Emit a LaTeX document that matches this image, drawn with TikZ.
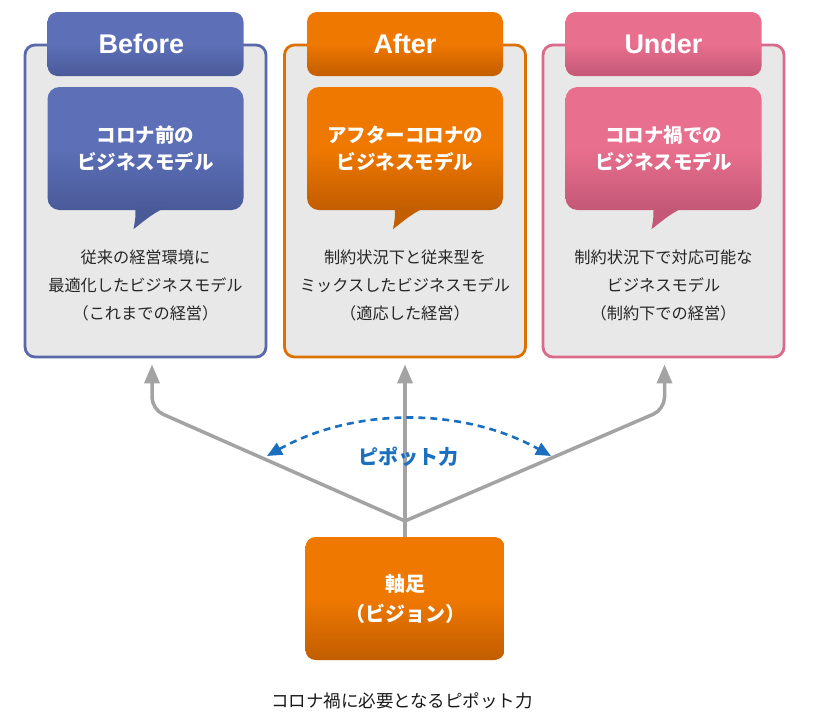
\documentclass[tikz,border=0pt]{standalone}
\usepackage{fontspec}
\setmainfont{Noto Sans CJK JP}
\newfontfamily\latinfont{Liberation Sans}
\usetikzlibrary{arrows.meta,calc}
\definecolor{panelgray}{HTML}{E8E8E8}
\definecolor{bluetop}{HTML}{5D70B7}
\definecolor{bluebot}{HTML}{4A5A99}
\definecolor{blueborder}{HTML}{5868A8}
\definecolor{orangetop}{HTML}{EF7800}
\definecolor{orangebot}{HTML}{C25D00}
\definecolor{orangeborder}{HTML}{DC7000}
\definecolor{pinktop}{HTML}{E86F8D}
\definecolor{pinkbot}{HTML}{C45877}
\definecolor{pinkborder}{HTML}{D96A8A}
\definecolor{arrowgray}{HTML}{A3A3A3}
\definecolor{pivotblue}{HTML}{1A6FBF}
\definecolor{bodytext}{HTML}{262626}
\begin{document}
\begin{tikzpicture}[x=1pt,y=-1pt,
  panel/.style={draw=#1border, fill=panelgray, line width=2.8pt, rounded corners=10pt,
    minimum width=241pt, minimum height=312pt, inner sep=0pt},
  tabbox/.style={rounded corners=10pt, top color=#1top, bottom color=#1bot, middle color=#1top,
    minimum width=196pt, minimum height=64pt, inner sep=0pt, text=white,
    font=\latinfont\bfseries\fontsize{27}{30}\selectfont},
  bubble/.style={rounded corners=12pt, top color=#1top, bottom color=#1bot, middle color=#1top,
    minimum width=196pt, minimum height=123pt, inner sep=0pt, text=white, align=center,
    font=\bfseries\fontsize{19.5}{27}\selectfont},
  bodybox/.style={text=bodytext, align=center, font=\fontsize{16.2}{28}\selectfont, inner sep=0pt},
  grayarrow/.style={draw=arrowgray, line width=3.5pt, -{Triangle[length=19pt,width=15pt]}},
  pivotarrow/.style={draw=pivotblue, line width=2.6pt, dash pattern=on 7pt off 5pt,
    {Triangle[length=15pt,width=13pt]}-{Triangle[length=15pt,width=13pt]}}
]
\useasboundingbox[fill=white] (0,0) rectangle (815,713);

% ---------- Before ----------
\node[panel=blue] (before) at (145.5,201) {};
\node[tabbox=blue] (tab1) at (145.5,44) {\hspace*{-8pt}Before};
\node[bubble=blue] (bub1) at (145.5,148.5) {コロナ前の\\ビジネスモデル};
\fill[bluebot] ($(bub1.south)+(-10,-3)$) .. controls ($(bub1.south)+(-10,8)$) .. ($(bub1.south)+(-12,19)$)
  .. controls ($(bub1.south)+(2,8)$) and ($(bub1.south)+(10,1)$) .. ($(bub1.south)+(22,-3)$) -- cycle;
\node[bodybox] (body1) at (145.5,285) {従来の経営環境に\\最適化したビジネスモデル\\（これまでの経営）};

% ---------- After ----------
\node[panel=orange] (after) at (405,201) {};
\node[tabbox=orange] (tab2) at (405,44) {After};
\node[bubble=orange] (bub2) at (405,148.5) {アフターコロナの\\ビジネスモデル};
\fill[orangebot] ($(bub2.south)+(-10,-3)$) .. controls ($(bub2.south)+(-10,8)$) .. ($(bub2.south)+(-12,19)$)
  .. controls ($(bub2.south)+(2,8)$) and ($(bub2.south)+(10,1)$) .. ($(bub2.south)+(22,-3)$) -- cycle;
\node[bodybox] (body2) at (405,285) {制約状況下と従来型を\\ミックスしたビジネスモデル\\（適応した経営）};

% ---------- Under ----------
\node[panel=pink] (under) at (663.5,201) {};
\node[tabbox=pink] (tab3) at (663.5,44) {Under};
\node[bubble=pink] (bub3) at (663.5,148.5) {コロナ禍での\\ビジネスモデル};
\fill[pinkbot] ($(bub3.south)+(-10,-3)$) .. controls ($(bub3.south)+(-10,8)$) .. ($(bub3.south)+(-12,19)$)
  .. controls ($(bub3.south)+(2,8)$) and ($(bub3.south)+(10,1)$) .. ($(bub3.south)+(22,-3)$) -- cycle;
\node[bodybox] (body3) at (663.5,285) {制約状況下で対応可能な\\ビジネスモデル\\（制約下での経営）};

% ---------- Axis box ----------
\node[rounded corners=10pt, top color=orangetop, bottom color=orangebot, middle color=orangetop,
  minimum width=199pt, minimum height=123pt, inner sep=0pt, text=white, align=center,
  font=\bfseries\fontsize{20}{30}\selectfont] (axis) at (405,598.5) {軸足\\（ビジョン）};

% ---------- Arrows ----------
\coordinate (J) at (405,521);
\draw[grayarrow] (axis.north) -- ([yshift=-6pt]after.south);
\draw[grayarrow, rounded corners=12pt] (J) -- ($(before.south)+(6.5,51)$) -- ([xshift=6.5pt,yshift=-6pt]before.south);
\draw[grayarrow, rounded corners=12pt] (J) -- ($(under.south)+(1,51)$) -- ([xshift=1pt,yshift=-6pt]under.south);

% ---------- Pivot ----------
\coordinate (pl) at (267,456);
\coordinate (pr) at (551,456);
\draw[pivotarrow] (pl) .. controls (355,407) and (463,407) .. (pr);
\node[text=pivotblue, font=\bfseries\fontsize{20}{24}\selectfont, inner sep=0pt] (pivot) at (408,457) {ピポット力};

% ---------- Caption ----------
\node[text=black!90, font=\fontsize{17.5}{20}\selectfont, inner sep=0pt] (caption) at (402,701) {コロナ禍に必要となるピポット力};
\end{tikzpicture}
\end{document}
